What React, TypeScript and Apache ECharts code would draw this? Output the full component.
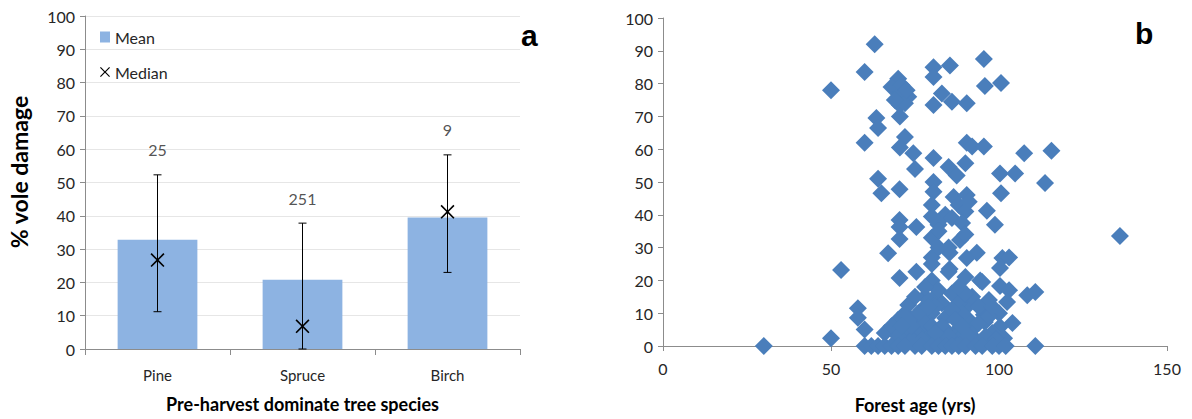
import React, { useEffect, useRef } from "react";
import * as echarts from "echarts";

// Panel a: vole damage by pre-harvest dominant tree species
const species = ["Pine", "Spruce", "Birch"];
const meanDamage = [32.8, 20.8, 39.5];
const medianDamage = [26.7, 6.8, 41.2];
const errLow = [11.2, 0, 23.0];
const errHigh = [52.3, 37.8, 58.3];
const sampleSize = [25, 251, 9];

// Panel b: vole damage against forest age, one point per stand [age, damage]
const standPoints: [number, number][] = [
  [63, 92], [60, 83.5], [50, 78], [70, 81.5], [68, 79], [71, 77.5], [73, 76],
  [70.5, 73.5], [70.5, 70], [63.5, 69.5], [64, 66.5], [60, 62], [72, 63.7],
  [70.5, 60.5], [74.5, 58.8], [80.5, 85], [85.4, 85.5], [80.5, 82], [95.5, 87.5],
  [95.8, 79.3], [100.6, 80.2], [83, 77], [80.5, 73.5], [86, 74.5], [90.4, 74],
  [90.4, 62], [92, 60.8], [95.5, 60.8], [107.5, 58.8], [115.6, 59.5], [80.5, 57.3],
  [72, 74], [69, 75], [71, 79.5], [72.5, 78],
  [75, 54], [64, 51], [65, 46.6], [85, 54.6], [90, 55.7], [87.4, 52], [100.3, 52.6],
  [104.8, 52.6], [113.7, 49.7], [80.5, 50], [80.5, 47], [100.6, 46.6], [86.5, 45.4],
  [90.4, 46], [70.4, 47.8], [96.4, 41.2], [80, 43], [84, 40], [88, 43], [90, 41],
  [91, 44], [82, 37], [86, 39], [89, 37.5], [80, 39.5],
  [136, 33.5], [98.8, 37], [75.4, 36.3], [70.4, 38.4], [70.4, 36.3], [70.4, 32.6],
  [67, 28.3], [88.4, 32.3], [85.3, 28.4], [93.4, 28.4], [90.4, 26.8], [101, 26.8],
  [103, 27], [100.3, 23.8], [85.3, 23.5], [75.4, 22.6], [53, 23.2], [70.4, 20.7],
  [80, 25], [80, 20], [85, 22.6], [90, 21], [94.4, 20], [80, 33], [82, 35], [85, 30],
  [90, 34], [80, 27], [82, 30],
  [95, 19.5], [100.3, 18.3], [103, 17], [108.4, 15.5], [110.8, 16.5], [102.4, 13.4],
  [90.4, 12], [85.3, 9.5], [95.5, 9.5], [95.8, 7.3], [104, 7], [100.3, 5.9],
  [110.8, 0], [58, 11.5], [58, 8.6], [60, 5], [50, 2.4], [30, 0], [73, 12.5],
  [80, 14], [83, 13], [70, 8], [75, 8.5], [84, 8.5], [66, 4], [72, 4], [79, 4],
  [87, 4.3], [92, 5], [98, 4], [101.5, 2.4], [77, 11], [80, 10], [82, 17], [78, 15],
  [86, 16], [88, 13], [91, 8], [76, 5], [74, 2], [82, 2], [88, 2], [93, 2], [96, 3],
  [78, 7], [84, 5], [80, 6], [68, 6], [72, 10], [89, 10], [100, 10], [92, 15],
  [86, 11], [97, 14], [75, 15], [78, 18], [74, 6], [70, 3], [81, 12], [83, 6],
  [85, 3], [87, 8], [89, 6], [91, 3], [94, 7], [97, 9], [99, 2], [76, 10], [79, 12],
  [73, 8], [71, 6], [77, 2], [81, 4], [90, 16], [94, 12], [98, 12], [88, 18],
  [60, 0], [62, 0], [64, 0], [66, 0], [68, 0], [70, 0], [72, 0], [75, 0], [77, 0],
  [80, 0], [82, 0], [84, 0], [86, 0], [88, 0], [90, 0], [93, 0], [95, 0], [98, 0],
  [100, 0], [102, 0],
];

const FONT = "Lato, 'Open Sans', sans-serif";
const TEXT = "#262626";
const AXIS = "#8c8c8c";
const X_ICON =
  "path://M0,1 L1,0 L6,5 L11,0 L12,1 L7,6 L12,11 L11,12 L6,7 L1,12 L0,11 L5,6 Z";

export default function App() {
  const ref = useRef<HTMLDivElement>(null);

  useEffect(() => {
    if (!ref.current) return;
    const chart = echarts.init(ref.current, null, { renderer: "svg" });

    const errData = species.map((_, i) => [i, errLow[i], errHigh[i]]);
    const nLabelData = species.map((_, i) => [i, errHigh[i] + 7.5, sampleSize[i]]);

    chart.setOption({
      animation: false,
      backgroundColor: "#ffffff",
      textStyle: { fontFamily: FONT },
      legend: {
        orient: "vertical",
        left: 95,
        top: 24,
        itemGap: 19,
        itemWidth: 10,
        itemHeight: 11,
        textStyle: { fontSize: 16, color: TEXT, fontFamily: FONT },
        data: [
          { name: "Mean", icon: "rect" },
          { name: "Median", icon: X_ICON },
        ],
      },
      graphic: [
        {
          type: "text",
          x: 19,
          y: 172,
          rotation: Math.PI / 2,
          style: {
            text: "% vole damage",
            font: `bold 23px ${FONT}`,
            fill: "#000",
            align: "center",
            verticalAlign: "middle",
          },
        },
        {
          type: "text",
          left: 521,
          top: 20,
          style: { text: "a", font: "bold 30px Arial, sans-serif", fill: "#000" },
        },
        {
          type: "text",
          left: 1135,
          top: 18,
          style: { text: "b", font: "bold 30px Arial, sans-serif", fill: "#000" },
        },
      ],
      grid: [
        { left: 85, top: 16, width: 435, height: 333 },
        { left: 663, top: 18, width: 504, height: 328 },
      ],
      xAxis: [
        {
          type: "category",
          gridIndex: 0,
          data: species,
          boundaryGap: true,
          axisLine: { lineStyle: { color: AXIS } },
          axisTick: { show: true, length: 6, lineStyle: { color: AXIS } },
          axisLabel: { color: TEXT, fontSize: 15, margin: 18 },
          name: "Pre-harvest dominate tree species",
          nameLocation: "middle",
          nameGap: 46,
          nameTextStyle: { fontSize: 18, fontWeight: "bold", color: "#000" },
        },
        {
          type: "value",
          gridIndex: 1,
          min: 0,
          max: 150,
          interval: 50,
          splitLine: { show: false },
          axisLine: { show: true, lineStyle: { color: AXIS } },
          axisTick: { show: true, length: 5, lineStyle: { color: AXIS } },
          axisLabel: { color: TEXT, fontSize: 16, margin: 14 },
          name: "Forest age (yrs)",
          nameLocation: "middle",
          nameGap: 50,
          nameTextStyle: { fontSize: 18, fontWeight: "bold", color: "#000" },
        },
      ],
      yAxis: [
        {
          type: "value",
          gridIndex: 0,
          min: 0,
          max: 100,
          interval: 10,
          axisLine: { show: true, lineStyle: { color: AXIS } },
          axisTick: { show: true, length: 5, lineStyle: { color: AXIS } },
          axisLabel: { color: TEXT, fontSize: 16, margin: 10 },
          splitLine: { show: true, lineStyle: { color: "#e6e6e6" } },
        },
        {
          type: "value",
          gridIndex: 1,
          min: 0,
          max: 100,
          interval: 10,
          axisLine: { show: true, lineStyle: { color: AXIS } },
          axisTick: { show: true, length: 5, lineStyle: { color: AXIS } },
          axisLabel: { color: TEXT, fontSize: 16, margin: 10 },
          splitLine: { show: false },
        },
      ],
      series: [
        {
          name: "Mean",
          type: "bar",
          xAxisIndex: 0,
          yAxisIndex: 0,
          data: meanDamage,
          barWidth: "55%",
          itemStyle: { color: "#8DB3E2" },
          z: 1,
        },
        {
          name: "Error",
          type: "custom",
          xAxisIndex: 0,
          yAxisIndex: 0,
          data: errData,
          z: 3,
          renderItem: (_params: any, api: any) => {
            const x = api.value(0);
            const lo = api.coord([x, api.value(1)]);
            const hi = api.coord([x, api.value(2)]);
            const cap = 4;
            const style = { stroke: "#000", lineWidth: 1 };
            return {
              type: "group",
              children: [
                { type: "line", shape: { x1: lo[0], y1: lo[1], x2: hi[0], y2: hi[1] }, style },
                { type: "line", shape: { x1: hi[0] - cap, y1: hi[1], x2: hi[0] + cap, y2: hi[1] }, style },
                { type: "line", shape: { x1: lo[0] - cap, y1: lo[1], x2: lo[0] + cap, y2: lo[1] }, style },
              ],
            };
          },
        },
        {
          name: "Median",
          type: "scatter",
          xAxisIndex: 0,
          yAxisIndex: 0,
          data: medianDamage,
          symbol: X_ICON,
          symbolSize: 14,
          itemStyle: { color: "#000", opacity: 1 },
          z: 4,
        },
        {
          name: "n",
          type: "scatter",
          xAxisIndex: 0,
          yAxisIndex: 0,
          data: nLabelData,
          symbolSize: 0,
          silent: true,
          label: {
            show: true,
            position: "inside",
            formatter: (p: any) => String(p.value[2]),
            fontSize: 16,
            color: TEXT,
          },
        },
        {
          name: "Stands",
          type: "scatter",
          xAxisIndex: 1,
          yAxisIndex: 1,
          data: standPoints,
          symbol: "diamond",
          symbolSize: 18,
          itemStyle: { color: "#4A7EBB", opacity: 1 },
        },
      ],
    });

    return () => chart.dispose();
  }, []);

  return (
    <div
      ref={ref}
      style={{ position: "fixed", left: 0, top: 0, width: 1192, height: 419 }}
    />
  );
}
